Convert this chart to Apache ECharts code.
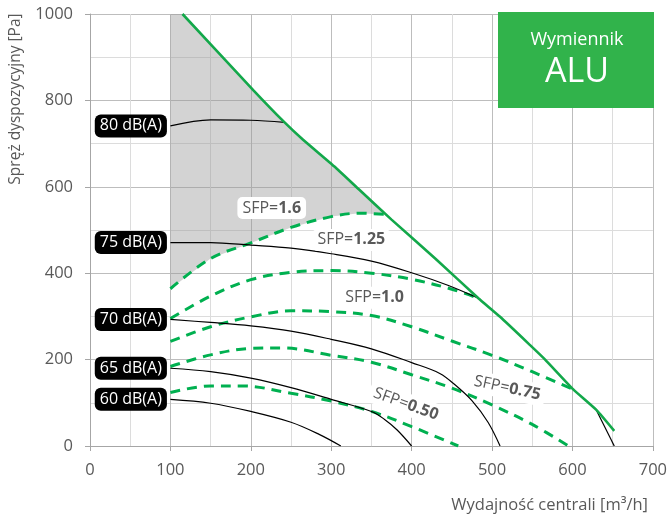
<!DOCTYPE html>
<html><head><meta charset="utf-8">
<script src="https://cdn.jsdelivr.net/npm/echarts@6/dist/echarts.min.js"></script>
<style>html,body{margin:0;padding:0;background:#fff}#c{width:670px;height:518px}</style>
</head><body><div id="c"></div>
<script>
// ---- data (x: m3/h, y: Pa) ----
const xTicks = [0, 700, 100];
const yTicks = [0, 1000, 200];
const envelope = [[115,1000],[203,824],[242,749],[265,709],[304,647],[335,593],[375,524],[430,433],[483,342],[510,299],[547,234],[566,200],[601,131],[630,83],[652,35]];
const capacityTail = [[630,82],[652,0]];
const sfp160 = [[100,364],[150,434],[200,470],[250,506],[300,531],[335,539],[367,536]];
const sfp125 = [[100,295],[150,347],[200,385],[250,402],[300,406],[350,400],[400,386],[450,363],[483,342]];
const sfp100 = [[100,242],[150,276],[200,299],[250,313],[300,311],[350,302],[400,276],[450,243],[500,210],[550,172],[601,131]];
const sfp075 = [[100,184],[150,211],[200,226],[240,227],[300,210],[350,194],[400,165],[450,134],[500,95],[550,50],[595,0]];
const sfp050 = [[100,124],[150,139],[190,139],[250,122],[300,104],[350,80],[400,45],[458,0]];
const db80 = [[100,741],[150,755],[200,754],[242,749]];
const db75 = [[100,471],[150,471],[200,465],[250,458],[300,445],[350,428],[400,401],[445,372],[483,342]];
const db70 = [[100,293],[150,286],[200,278],[250,266],[300,247],[350,225],[400,193],[435,168],[455,140],[475,105],[495,55],[510,0]];
const db65 = [[100,180],[150,172],[200,157],[250,135],[300,108],[350,80],[366,62],[382,37],[400,0]];
const db60 = [[100,108],[150,99],[200,80],[250,55],[285,27],[312,0]];
const dbNames = ['80 dB(A)','75 dB(A)','70 dB(A)','65 dB(A)','60 dB(A)'];
const sfpNames = ['1.6','1.25','1.0','0.75','0.50'];
const sfpLabelAnchors = [[226,551],[325,477],[354,343],[519,134],[393,97]];
const sfpLabelRotate = [0,0,0,-12,-20];
const axisTitleX = 'Wydajność centrali [m³/h]';
const axisTitleY = 'Spręż dyspozycyjny [Pa]';
const boxTitle = ['Wymiennik','ALU'];

// ---- chart ----
const FONT = 'Open Sans';
const GREEN = '#00b050';
const chart = echarts.init(document.getElementById('c'), null, {renderer:'canvas'});

// grey region: left edge at x=100, top along envelope, bottom along SFP 1.6
const sfpEnd = sfp160[sfp160.length-1];
const greyPoly = [[sfp160[0][0], yTicks[1]]]
  .concat(envelope.filter(p => p[0] < sfpEnd[0]))
  .concat(sfp160.slice().reverse());

function dashed(data){
  return {type:'line', data, smooth:0.35, symbol:'none', z:3,
    lineStyle:{color:GREEN, width:3, type:[10,7]}};
}
function black(data){
  return {type:'line', data, smooth:0.35, symbol:'none', z:4,
    lineStyle:{color:'#000', width:1.2}};
}
const dbSets = [db80, db75, db70, db65, db60];
const sfpSets = [sfp160, sfp125, sfp100, sfp075, sfp050];

const series = [
  {type:'custom', z:1, silent:true, data:[[0,0]],
   renderItem:(params, api) => ({type:'polygon',
     shape:{points: greyPoly.map(p => api.coord(p))},
     style:{fill:'rgba(150,150,150,0.42)'}})},
  ...sfpSets.map(dashed),
  ...dbSets.map(black),
  black(capacityTail),
  {type:'line', data:envelope, symbol:'none', smooth:0.15, z:5,
   lineStyle:{color:'#13a84a', width:2.6}},
  {type:'scatter', z:6, symbolSize:1, itemStyle:{color:'rgba(0,0,0,0)', opacity:1},
   data: dbSets.map((s,i) => ({value:s[0], label:{formatter:dbNames[i]}})),
   label:{show:true, position:'left', distance:3, color:'#fff', backgroundColor:'#000',
     borderRadius:6, padding:[4,5,3,5], fontSize:16, fontFamily:FONT}},
  {type:'scatter', z:6, symbolSize:1, itemStyle:{color:'rgba(0,0,0,0)', opacity:1},
   data: sfpLabelAnchors.map((a,i) => ({value:a,
     label:{formatter:'{a|SFP=}{b|' + sfpNames[i] + '}', rotate:sfpLabelRotate[i]}})),
   label:{show:true, position:'inside', backgroundColor:'#fff', borderRadius:5, padding:[3,5],
     rich:{a:{fontSize:16, color:'#595959', fontFamily:FONT},
           b:{fontSize:16, color:'#595959', fontFamily:FONT, fontWeight:'bold'}}}}
];

const axisCommon = {
  type:'value',
  axisLine:{show:true, lineStyle:{color:'#a6a6a6', width:1}},
  axisTick:{show:true, length:5, lineStyle:{color:'#a6a6a6'}},
  axisLabel:{color:'#595959', fontSize:16.5, fontFamily:FONT, formatter:v => String(v)},
  splitLine:{show:true, lineStyle:{color:'#bdbdbd', width:1}},
  minorTick:{show:false, splitNumber:2},
  minorSplitLine:{show:true, lineStyle:{color:'#dcdcdc', width:1}}
};

chart.setOption({
  animation:false,
  grid:{left:90, right:17, top:14, bottom:72},
  xAxis:Object.assign({}, axisCommon, {min:xTicks[0], max:xTicks[1], interval:xTicks[2],
    axisLabel:Object.assign({}, axisCommon.axisLabel, {margin:16})}),
  yAxis:Object.assign({}, axisCommon, {min:yTicks[0], max:yTicks[1], interval:yTicks[2],
    axisLabel:Object.assign({}, axisCommon.axisLabel, {margin:17})}),
  series,
  graphic:[
    {type:'rect', left:498, top:12, shape:{width:156, height:96}, style:{fill:'#31b34b'}, z:10},
    {type:'text', x:577, y:40, z:11, style:{text:boxTitle[0], fill:'#fff', font:'18px "Open Sans"', textAlign:'center', textVerticalAlign:'middle'}},
    {type:'text', x:577, y:72, z:11, style:{text:boxTitle[1], fill:'#fff', font:'34px "Open Sans"', textAlign:'center', textVerticalAlign:'middle'}},
    {type:'text', x:648, y:505, z:11, style:{text:axisTitleX, fill:'#595959', font:'16.5px "Open Sans"', textAlign:'right', textVerticalAlign:'middle'}},
    {type:'text', x:16, y:99, rotation:Math.PI/2, z:11, style:{text:axisTitleY, fill:'#595959', font:'15.5px "Open Sans"', textAlign:'center', textVerticalAlign:'middle'}}
  ]
});
</script></body></html>
